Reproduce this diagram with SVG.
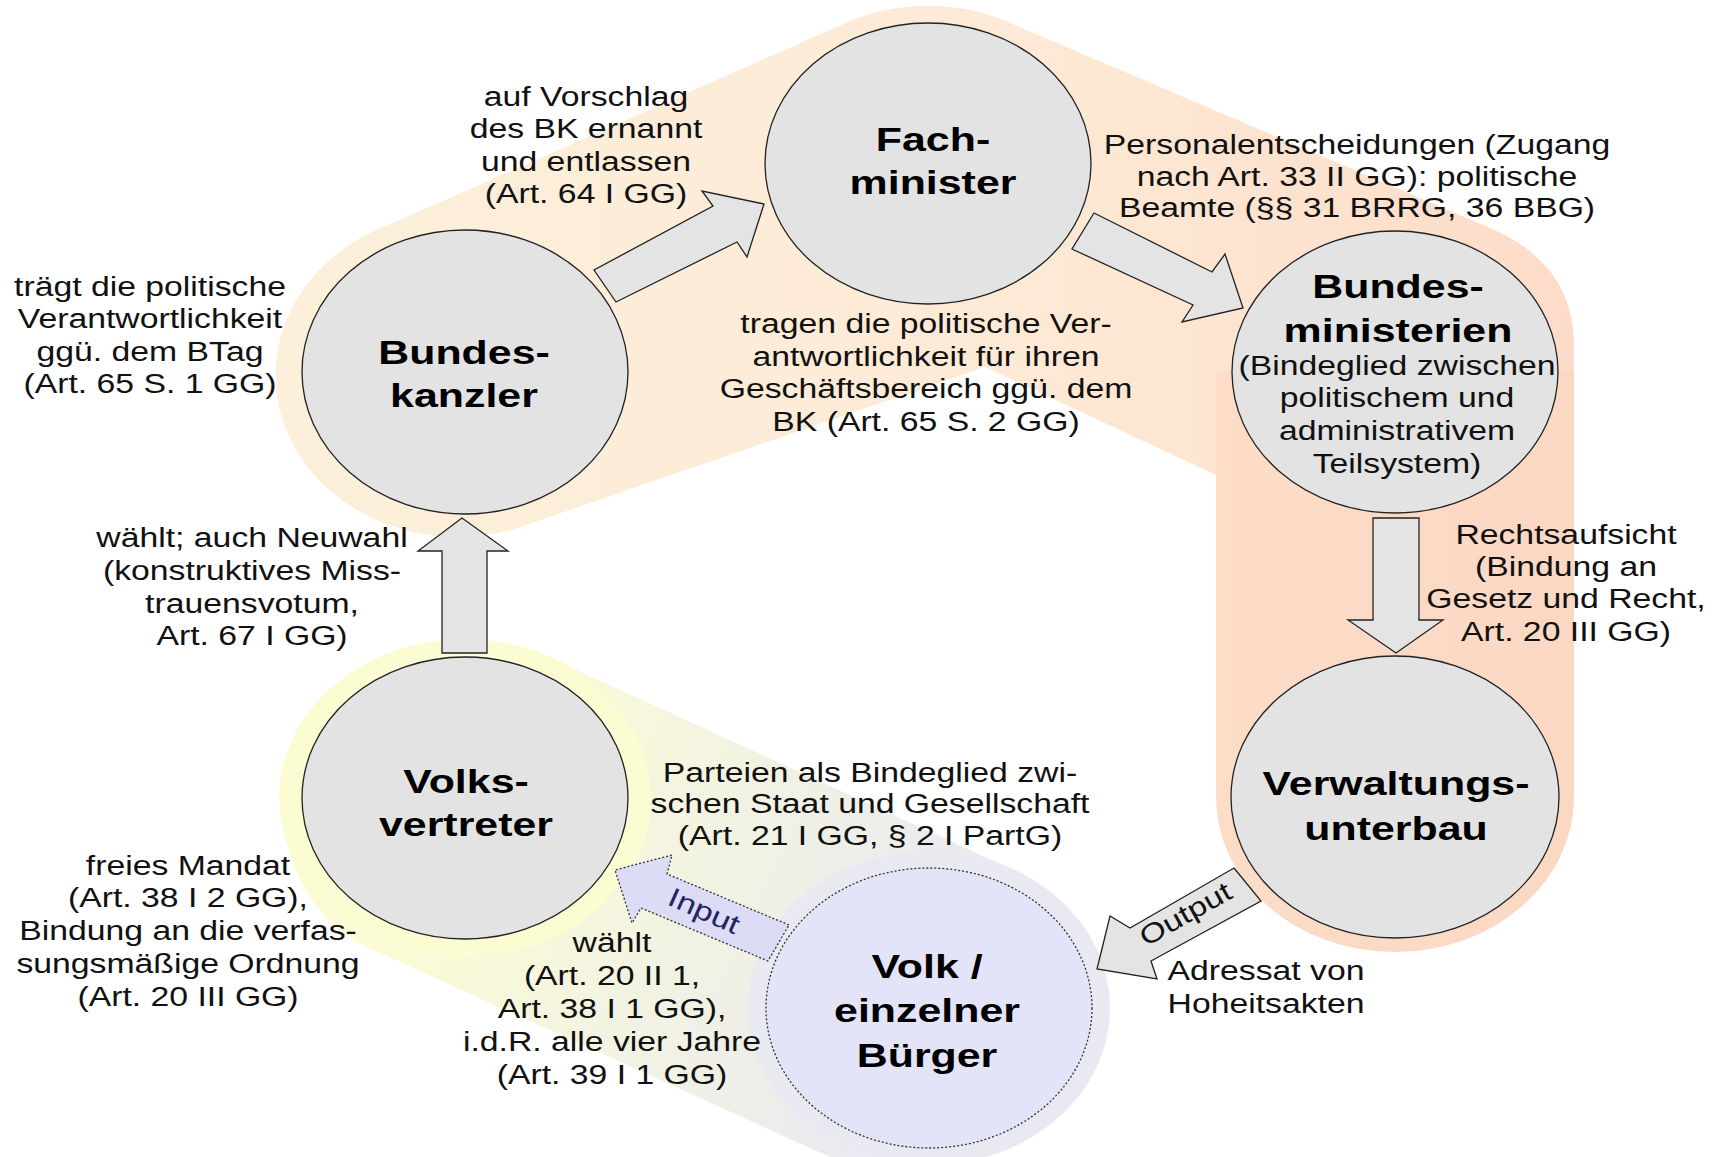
<svg xmlns="http://www.w3.org/2000/svg" width="1723" height="1157" viewBox="0 0 1723 1157">
  <defs>
    <linearGradient id="gTop" gradientUnits="userSpaceOnUse" x1="280" y1="0" x2="1574" y2="0">
      <stop offset="0" stop-color="#fcf0da"/>
      <stop offset="0.55" stop-color="#fdead6"/>
      <stop offset="1" stop-color="#fcdcc8"/>
    </linearGradient>
    <linearGradient id="gLow" gradientUnits="userSpaceOnUse" x1="470" y1="790" x2="940" y2="1010">
      <stop offset="0" stop-color="#fbfbd6"/>
      <stop offset="1" stop-color="#e9e9f1"/>
    </linearGradient>
    <style>
      .node { fill: #e3e3e3; stroke: #222; stroke-width: 1.3; }
      .volk { fill: #e4e4f8; stroke: #333; stroke-width: 1.3; stroke-dasharray: 2 2; }
      .arrow { fill: #e4e4e4; stroke: #222; stroke-width: 1.3; stroke-linejoin: miter; }
      .arrow-in { fill: #dcdcf6; stroke: #333; stroke-width: 1.3; stroke-dasharray: 2 2; }
      .t { font-family: "Liberation Sans", Arial, sans-serif; font-size: 27px; fill: #111; text-anchor: middle; }
      .n { font-family: "Liberation Sans", Arial, sans-serif; font-size: 32.5px; font-weight: bold; fill: #000; text-anchor: middle; }
    </style>
  </defs>

  <rect width="1723" height="1157" fill="#ffffff"/>

  <!-- background bands: government chain (top/right) and representation chain (bottom/left) -->
  <g id="bands">
    <path d="M 529,524 A 182,162 0 0,1 386,226 L 848,22 A 181,157 0 0,1 1008,22 L 1490,228 Q 1574,264 1574,345 L 1574,797 A 179,155 0 0,1 1216,797 L 1216,475 L 985,367 Z" fill="url(#gTop)"/>
    <path d="M 1216,372 L 1574,372 L 1574,797 A 179,155 0 0,1 1216,797 Z" fill="#fad2bc" opacity="0.45"/>
    <path d="M 546,656 L 1007,867 L 929,1008 L 929,1157 L 830,1157 L 380,953 Q 310,925 289,850 Z" fill="url(#gLow)"/>
    <ellipse cx="929" cy="1008" rx="181" ry="157" fill="#e9e9f1"/>
    <ellipse cx="465" cy="798" rx="186" ry="159" fill="#fcfcd3"/>
  </g>

  <!-- nodes -->
  <g id="node-fachminister">
    <ellipse class="node" cx="928" cy="163.5" rx="163" ry="140.5"/>
    <text class="n" transform="translate(933,0) scale(1.32,1)"><tspan x="0" y="151">Fach-</tspan><tspan x="0" y="194">minister</tspan></text>
  </g>
  <g id="node-bundeskanzler">
    <ellipse class="node" cx="465" cy="372" rx="163" ry="142"/>
    <text class="n" transform="translate(464,0) scale(1.32,1)"><tspan x="0" y="364">Bundes-</tspan><tspan x="0" y="407">kanzler</tspan></text>
  </g>
  <g id="node-bundesministerien">
    <ellipse class="node" cx="1395" cy="372" rx="163" ry="141"/>
    <text class="n" transform="translate(1398,0) scale(1.32,1)"><tspan x="0" y="298">Bundes-</tspan><tspan x="0" y="342">ministerien</tspan></text>
    <text class="t" transform="translate(1397,0) scale(1.25,1)"><tspan x="0" y="375">(Bindeglied zwischen</tspan><tspan x="0" y="407">politischem und</tspan><tspan x="0" y="440">administrativem</tspan><tspan x="0" y="473">Teilsystem)</tspan></text>
  </g>
  <g id="node-verwaltungsunterbau">
    <ellipse class="node" cx="1395" cy="797" rx="164" ry="141"/>
    <text class="n" transform="translate(1396,0) scale(1.32,1)"><tspan x="0" y="795">Verwaltungs-</tspan><tspan x="0" y="840">unterbau</tspan></text>
  </g>
  <g id="node-volksvertreter">
    <ellipse class="node" cx="465" cy="798" rx="163" ry="141"/>
    <text class="n" transform="translate(466,0) scale(1.32,1)"><tspan x="0" y="793">Volks-</tspan><tspan x="0" y="836">vertreter</tspan></text>
  </g>
  <g id="node-volk">
    <ellipse class="volk" cx="929" cy="1008" rx="163" ry="140"/>
    <text class="n" transform="translate(927,0) scale(1.32,1)"><tspan x="0" y="978">Volk /</tspan><tspan x="0" y="1022.5">einzelner</tspan><tspan x="0" y="1067">Bürger</tspan></text>
  </g>

  <!-- connectors: block arrows -->
  <g id="connectors">
    <polygon class="arrow" points="616,302 594,270 713,206 702,191 764,204 747,257 737,242"/>
    <polygon class="arrow" points="1094,213 1212,272 1225,254 1243,308 1182,322 1193,305 1072,249"/>
    <polygon class="arrow" points="1373,518 1419,518 1419,620 1443,620 1396,653 1348,620 1373,620"/>
    <polygon class="arrow" points="1234,868 1261,901 1151,961 1157,979 1097,969 1110,916 1130,928"/>
    <polygon class="arrow-in" points="789,925 667,874 672,855 615,870 632,923 641,908 768,961"/>
    <polygon class="arrow" points="442,653 442,551 418,551 462,518 508,551 487,551 487,653"/>
    <text class="t" transform="translate(1186,915) rotate(-29.5) scale(1.25,1)" y="8">Output</text>
    <text class="t" transform="translate(704,911) rotate(24) scale(1.25,1)" y="9" style="fill:#24245e">Input</text>
  </g>

  <!-- connector annotations -->
  <g id="edge-labels">
    <text class="t" transform="translate(150,0) scale(1.25,1)"><tspan x="0" y="296">trägt die politische</tspan><tspan x="0" y="328.5">Verantwortlichkeit</tspan><tspan x="0" y="361">ggü. dem BTag</tspan><tspan x="0" y="393">(Art. 65 S. 1 GG)</tspan></text>
    <text class="t" transform="translate(586,0) scale(1.25,1)"><tspan x="0" y="106">auf Vorschlag</tspan><tspan x="0" y="138.5">des BK ernannt</tspan><tspan x="0" y="171">und entlassen</tspan><tspan x="0" y="203">(Art. 64 I GG)</tspan></text>
    <text class="t" transform="translate(1357,0) scale(1.25,1)"><tspan x="0" y="154">Personalentscheidungen (Zugang</tspan><tspan x="0" y="186">nach Art. 33 II GG): politische</tspan><tspan x="0" y="217">Beamte (§§ 31 BRRG, 36 BBG)</tspan></text>
    <text class="t" transform="translate(926,0) scale(1.25,1)"><tspan x="0" y="333">tragen die politische Ver-</tspan><tspan x="0" y="366">antwortlichkeit für ihren</tspan><tspan x="0" y="398">Geschäftsbereich ggü. dem</tspan><tspan x="0" y="431">BK (Art. 65 S. 2 GG)</tspan></text>
    <text class="t" transform="translate(1566,0) scale(1.25,1)"><tspan x="0" y="544">Rechtsaufsicht</tspan><tspan x="0" y="576">(Bindung an</tspan><tspan x="0" y="608.5">Gesetz und Recht,</tspan><tspan x="0" y="641">Art. 20 III GG)</tspan></text>
    <text class="t" transform="translate(252,0) scale(1.25,1)"><tspan x="0" y="547">wählt; auch Neuwahl</tspan><tspan x="0" y="580">(konstruktives Miss-</tspan><tspan x="0" y="613">trauensvotum,</tspan><tspan x="0" y="645.5">Art. 67 I GG)</tspan></text>
    <text class="t" transform="translate(188,0) scale(1.25,1)"><tspan x="0" y="875">freies Mandat</tspan><tspan x="0" y="907">(Art. 38 I 2 GG),</tspan><tspan x="0" y="940">Bindung an die verfas-</tspan><tspan x="0" y="973">sungsmäßige Ordnung</tspan><tspan x="0" y="1006">(Art. 20 III GG)</tspan></text>
    <text class="t" transform="translate(870,0) scale(1.25,1)"><tspan x="0" y="782">Parteien als Bindeglied zwi-</tspan><tspan x="0" y="813.5">schen Staat und Gesellschaft</tspan><tspan x="0" y="845">(Art. 21 I GG, § 2 I PartG)</tspan></text>
    <text class="t" transform="translate(612,0) scale(1.25,1)"><tspan x="0" y="952">wählt</tspan><tspan x="0" y="985">(Art. 20 II 1,</tspan><tspan x="0" y="1018">Art. 38 I 1 GG),</tspan><tspan x="0" y="1051">i.d.R. alle vier Jahre</tspan><tspan x="0" y="1084">(Art. 39 I 1 GG)</tspan></text>
    <text class="t" transform="translate(1266,0) scale(1.25,1)"><tspan x="0" y="979.5">Adressat von</tspan><tspan x="0" y="1013">Hoheitsakten</tspan></text>
  </g>
</svg>
